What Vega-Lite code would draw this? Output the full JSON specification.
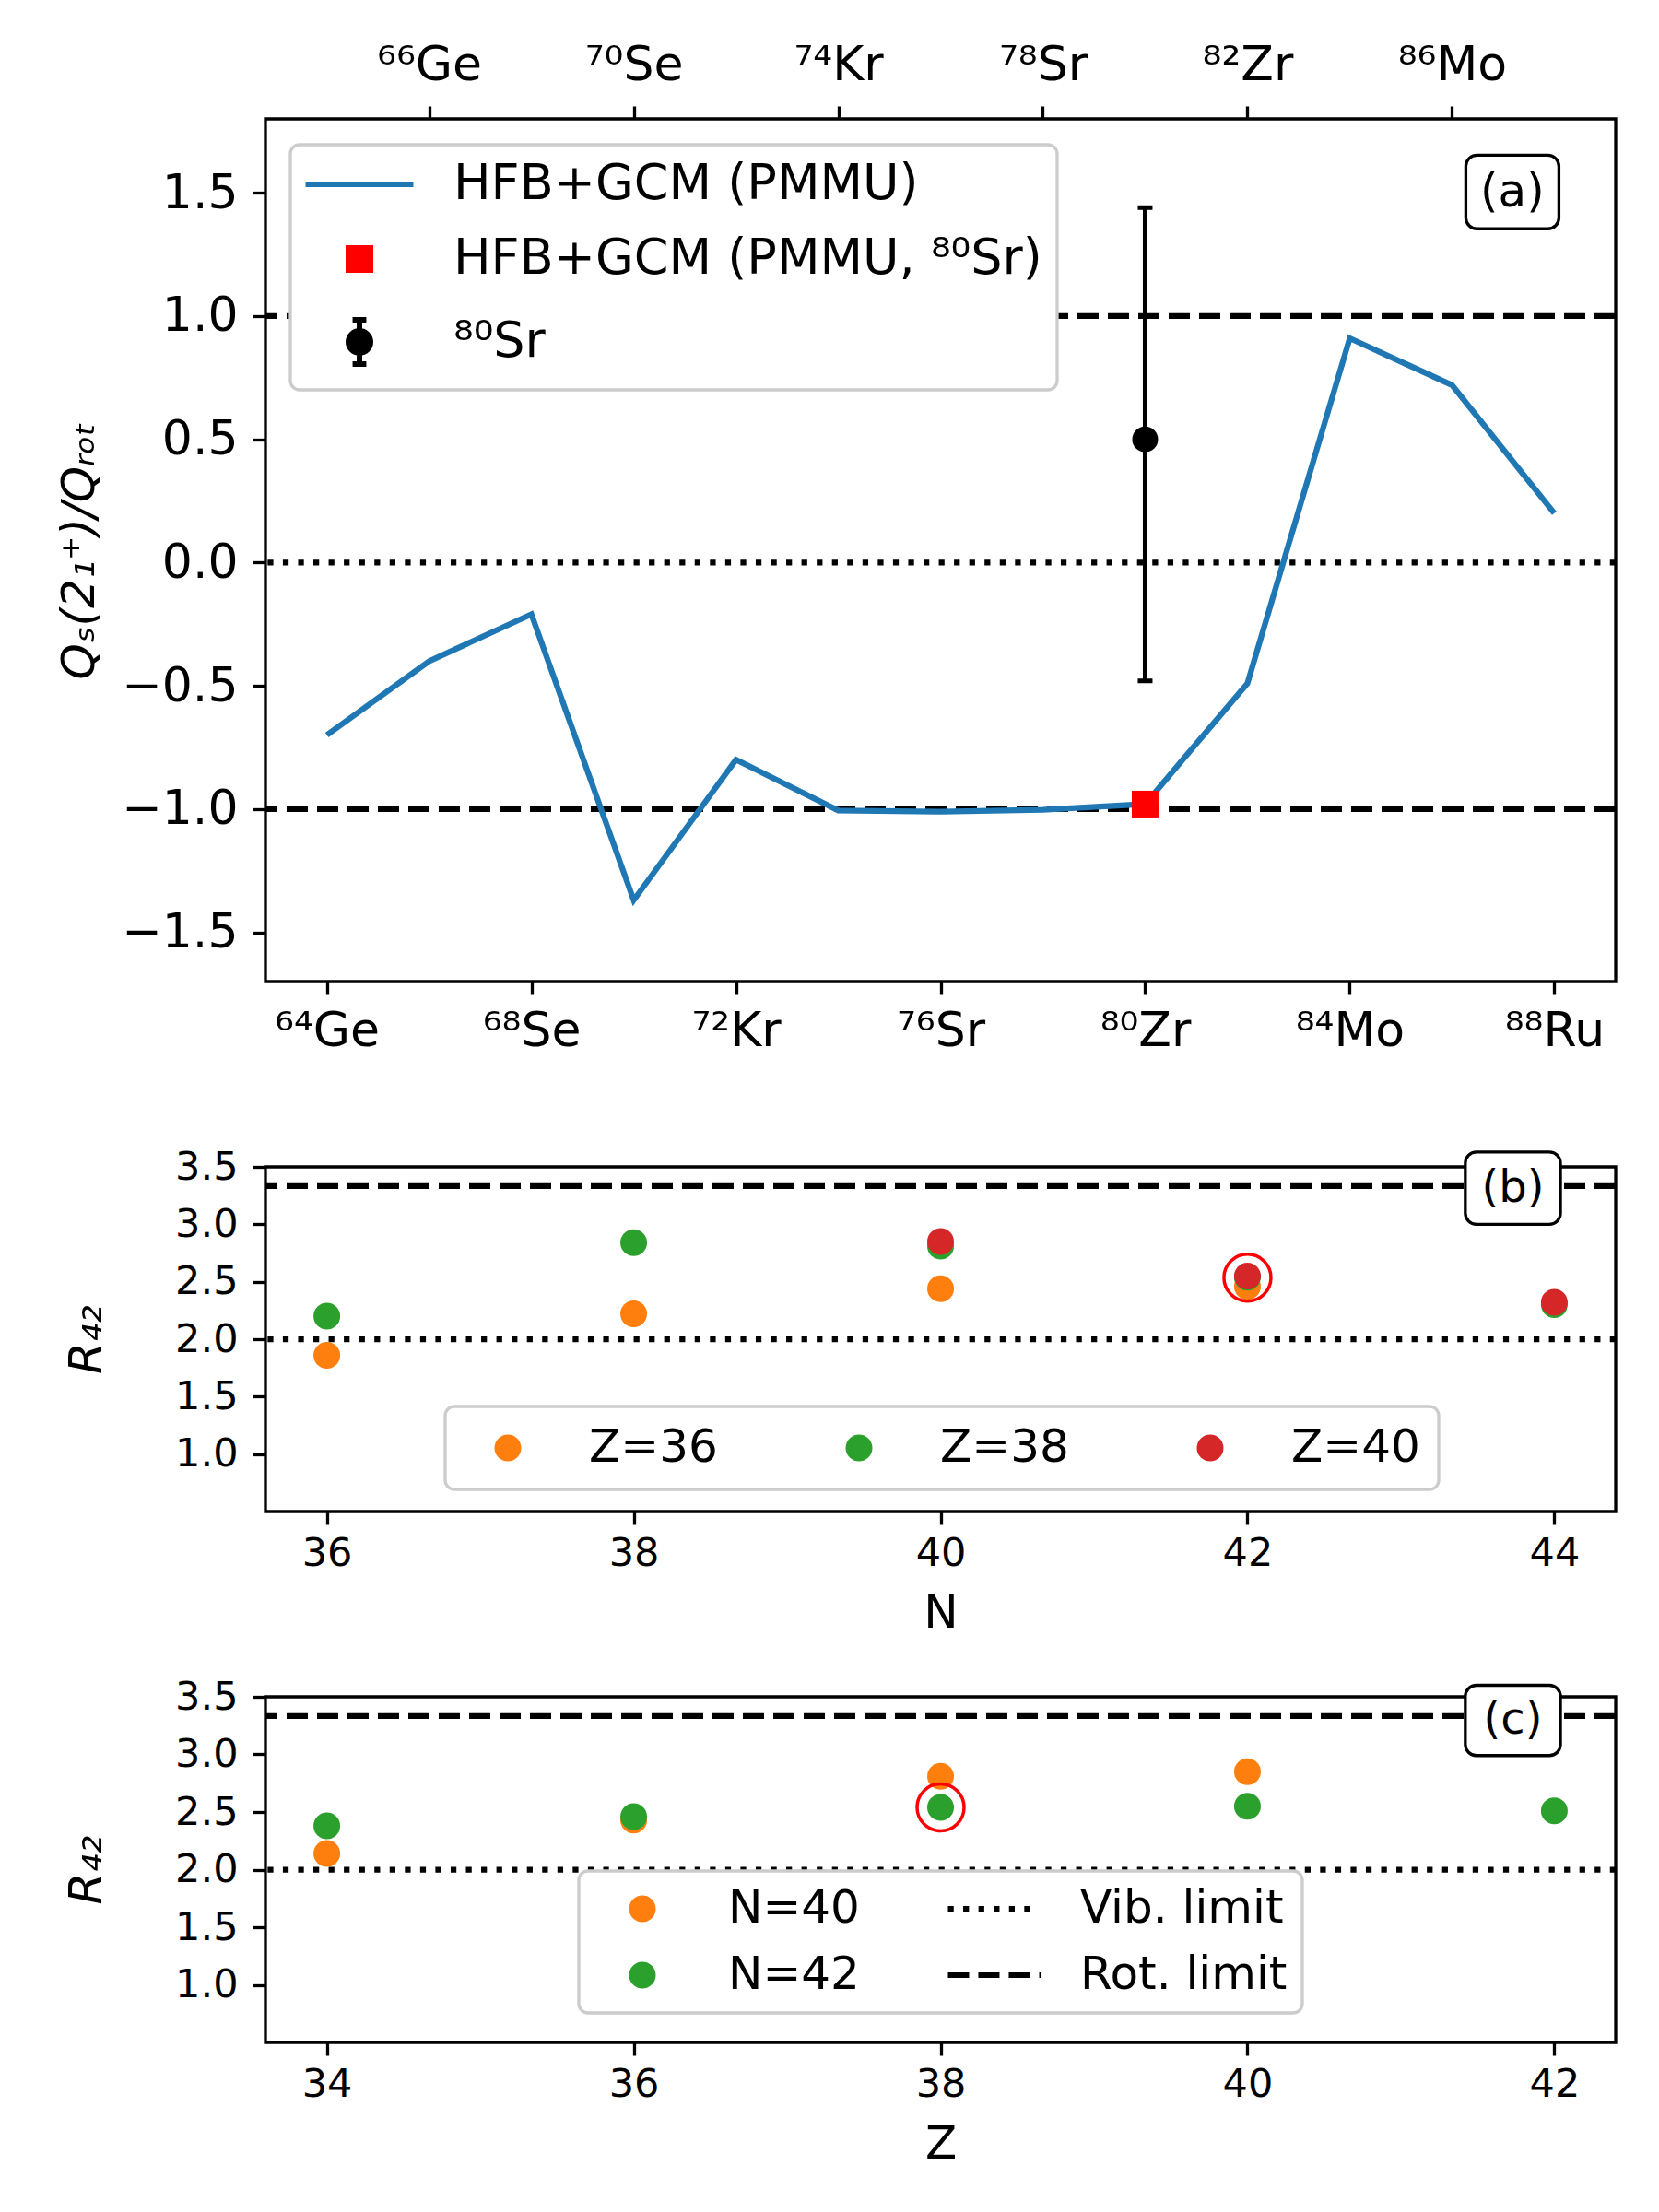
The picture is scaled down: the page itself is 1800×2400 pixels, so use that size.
{
  "$schema": "https://vega.github.io/schema/vega-lite/v6.json",
  "background": "white",
  "padding": {"left": 60, "top": 42, "right": 10, "bottom": 10},
  "bounds": "flush",
  "spacing": 201,
  "resolve": {
    "scale": {"color": "independent", "fill": "independent", "stroke": "independent", "shape": "independent", "size": "independent"},
    "legend": {"color": "independent", "fill": "independent", "stroke": "independent", "shape": "independent", "size": "independent"}
  },
  "datasets": {
    "qs": [
      {"A": 64, "q": -0.70},
      {"A": 66, "q": -0.40},
      {"A": 68, "q": -0.21},
      {"A": 70, "q": -1.37},
      {"A": 72, "q": -0.80},
      {"A": 74, "q": -1.006},
      {"A": 76, "q": -1.011},
      {"A": 78, "q": -1.003},
      {"A": 80, "q": -0.98},
      {"A": 82, "q": -0.49},
      {"A": 84, "q": 0.91},
      {"A": 86, "q": 0.72},
      {"A": 88, "q": 0.20}
    ],
    "rn": [
      {"N": 36, "R": 1.86, "g": "Z=36"},
      {"N": 38, "R": 2.22, "g": "Z=36"},
      {"N": 40, "R": 2.44, "g": "Z=36"},
      {"N": 42, "R": 2.46, "g": "Z=36"},
      {"N": 36, "R": 2.20, "g": "Z=38"},
      {"N": 38, "R": 2.84, "g": "Z=38"},
      {"N": 40, "R": 2.81, "g": "Z=38"},
      {"N": 42, "R": 2.54, "g": "Z=38"},
      {"N": 44, "R": 2.30, "g": "Z=38"},
      {"N": 40, "R": 2.85, "g": "Z=40"},
      {"N": 42, "R": 2.55, "g": "Z=40"},
      {"N": 44, "R": 2.32, "g": "Z=40"}
    ],
    "rz": [
      {"Z": 34, "R": 2.14, "g": "N=40"},
      {"Z": 36, "R": 2.43, "g": "N=40"},
      {"Z": 38, "R": 2.81, "g": "N=40"},
      {"Z": 40, "R": 2.85, "g": "N=40"},
      {"Z": 34, "R": 2.38, "g": "N=42"},
      {"Z": 36, "R": 2.46, "g": "N=42"},
      {"Z": 38, "R": 2.54, "g": "N=42"},
      {"Z": 40, "R": 2.55, "g": "N=42"},
      {"Z": 42, "R": 2.51, "g": "N=42"}
    ]
  },
  "config": {
    "font": "DejaVu Sans",
    "view": {"stroke": "black", "strokeWidth": 3.3},
    "axis": {
      "domain": false,
      "grid": false,
      "tickColor": "black",
      "tickWidth": 3.3,
      "tickSize": 14,
      "labelFont": "DejaVu Sans",
      "labelColor": "black",
      "labelFontSize": 52,
      "labelPadding": 4,
      "labelOverlap": false,
      "labelFlush": false,
      "labelBound": false,
      "titleFont": "DejaVu Sans",
      "titleFontWeight": "normal",
      "titleColor": "black",
      "titleFontSize": 50
    },
    "legend": {
      "labelFont": "DejaVu Sans",
      "labelColor": "black",
      "labelLimit": 2000,
      "fillColor": "white",
      "strokeColor": "#cccccc",
      "strokeWidth": 3.3,
      "cornerRadius": 10
    }
  },
  "vconcat": [
    {
      "width": 1465,
      "height": 936,
      "layer": [
        {
          "data": {"values": [{"y": 1}, {"y": -1}]},
          "mark": {"type": "rule", "color": "black", "strokeWidth": 6.25, "strokeDash": [23, 10]},
          "encoding": {"y": {"field": "y", "type": "quantitative", "scale": {"domain": [-1.7, 1.8], "nice": false}, "axis": null}}
        },
        {
          "data": {"values": [{"y": 0}]},
          "mark": {"type": "rule", "color": "black", "strokeWidth": 6.25, "strokeDash": [6.25, 10.3]},
          "encoding": {"y": {"field": "y", "type": "quantitative", "scale": {"domain": [-1.7, 1.8], "nice": false}, "axis": null}}
        },
        {
          "data": {"name": "qs"},
          "mark": {"type": "line", "color": "#1f77b4", "strokeWidth": 6.25},
          "encoding": {
            "x": {"field": "A", "type": "quantitative", "scale": {"domain": [62.8, 89.2], "nice": false, "zero": false},
              "axis": {"orient": "bottom", "title": null, "values": [64, 68, 72, 76, 80, 84, 88], "labelPadding": 14,
                "labelExpr": "datum.value == 64 ? '⁶⁴Ge' : datum.value == 68 ? '⁶⁸Se' : datum.value == 72 ? '⁷²Kr' : datum.value == 76 ? '⁷⁶Sr' : datum.value == 80 ? '⁸⁰Zr' : datum.value == 84 ? '⁸⁴Mo' : '⁸⁸Ru'"}},
            "y": {"field": "q", "type": "quantitative", "scale": {"domain": [-1.7, 1.8], "nice": false},
              "axis": {"title": "Qₛ(2₁⁺)/Qᵣₒₜ", "titleFontStyle": "italic", "values": [-1.5, -1, -0.5, 0, 0.5, 1, 1.5], "format": ".1f", "labelPadding": 16, "titlePadding": 20}}
          }
        },
        {
          "data": {"name": "qs"},
          "mark": {"type": "line", "opacity": 0},
          "encoding": {
            "x": {"field": "A", "type": "quantitative", "scale": {"domain": [62.8, 89.2], "nice": false, "zero": false},
              "axis": {"orient": "top", "title": null, "values": [66, 70, 74, 78, 82, 86], "labelPadding": 18,
                "labelExpr": "datum.value == 66 ? '⁶⁶Ge' : datum.value == 70 ? '⁷⁰Se' : datum.value == 74 ? '⁷⁴Kr' : datum.value == 78 ? '⁷⁸Sr' : datum.value == 82 ? '⁸²Zr' : '⁸⁶Mo'"}},
            "y": {"field": "q", "type": "quantitative", "scale": {"domain": [-1.7, 1.8], "nice": false}, "axis": null}
          }
        },
        {
          "data": {"values": [{"A": 80, "q": -0.98}]},
          "mark": {"type": "point", "shape": "square", "filled": true, "color": "red", "size": 841, "opacity": 1, "strokeWidth": 0},
          "encoding": {
            "x": {"field": "A", "type": "quantitative", "axis": null},
            "y": {"field": "q", "type": "quantitative", "axis": null}
          }
        },
        {
          "data": {"values": [{"A": 80, "lo": -0.48, "hi": 1.44}]},
          "mark": {"type": "rule", "color": "black", "strokeWidth": 5},
          "encoding": {
            "x": {"field": "A", "type": "quantitative", "axis": null},
            "y": {"field": "lo", "type": "quantitative", "axis": null},
            "y2": {"field": "hi"}
          }
        },
        {
          "data": {"values": [{"A": 80, "q": -0.48}, {"A": 80, "q": 1.44}]},
          "mark": {"type": "point", "shape": "stroke", "size": 256, "color": "black", "strokeWidth": 5, "opacity": 1},
          "encoding": {
            "x": {"field": "A", "type": "quantitative", "axis": null},
            "y": {"field": "q", "type": "quantitative", "axis": null}
          }
        },
        {
          "data": {"values": [{"A": 80, "q": 0.50}]},
          "mark": {"type": "point", "shape": "circle", "filled": true, "color": "black", "size": 784, "opacity": 1},
          "encoding": {
            "x": {"field": "A", "type": "quantitative", "axis": null},
            "y": {"field": "q", "type": "quantitative", "axis": null}
          }
        },
        {
          "data": {"values": [{"x1": 86.27, "x2": 88.09, "y1": 1.354, "y2": 1.653}]},
          "mark": {"type": "rect", "fill": "white", "stroke": "black", "strokeWidth": 3.3, "cornerRadius": 12},
          "encoding": {
            "x": {"field": "x1", "type": "quantitative", "axis": null},
            "x2": {"field": "x2"},
            "y": {"field": "y1", "type": "quantitative", "axis": null},
            "y2": {"field": "y2"}
          }
        },
        {
          "data": {"values": [{"A": 87.18, "q": 1.50, "t": "(a)"}]},
          "mark": {"type": "text", "fontSize": 50, "align": "center", "baseline": "middle", "color": "black"},
          "encoding": {
            "x": {"field": "A", "type": "quantitative", "axis": null},
            "y": {"field": "q", "type": "quantitative", "axis": null},
            "text": {"field": "t"}
          }
        },
        {
          "data": {"values": [{"s": "HFB+GCM (PMMU)"}, {"s": "HFB+GCM (PMMU, ⁸⁰Sr)"}, {"s": "⁸⁰Sr"}]},
          "mark": {"type": "point", "clip": true, "opacity": 1, "strokeWidth": 6},
          "encoding": {
            "x": {"datum": 0, "type": "quantitative", "scale": {"domain": [62.8, 89.2], "nice": false, "zero": false}, "axis": null},
            "y": {"datum": 0, "type": "quantitative", "scale": {"domain": [-1.7, 1.8], "nice": false}, "axis": null},
            "fill": {"field": "s", "type": "nominal",
              "scale": {"domain": ["HFB+GCM (PMMU)", "HFB+GCM (PMMU, ⁸⁰Sr)", "⁸⁰Sr"], "range": ["#1f77b4", "red", "black"]},
              "legend": {"title": null, "orient": "none", "legendX": 27, "legendY": 28, "direction": "vertical", "padding": 16, "symbolOffset": 32, "labelOffset": 75, "rowPadding": 27, "symbolStrokeWidth": 6, "labelFontSize": 54}},
            "stroke": {"field": "s", "type": "nominal",
              "scale": {"domain": ["HFB+GCM (PMMU)", "HFB+GCM (PMMU, ⁸⁰Sr)", "⁸⁰Sr"], "range": ["#1f77b4", "red", "black"]},
              "legend": {"title": null, "orient": "none", "legendX": 27, "legendY": 28, "direction": "vertical", "padding": 16, "symbolOffset": 32, "labelOffset": 75, "rowPadding": 27, "symbolStrokeWidth": 6, "labelFontSize": 54}},
            "shape": {"field": "s", "type": "nominal",
              "scale": {"domain": ["HFB+GCM (PMMU)", "HFB+GCM (PMMU, ⁸⁰Sr)", "⁸⁰Sr"], "range": ["M-4,0H4", "square", "M-0.5,0A0.5,0.5 0 1,0 0.5,0A0.5,0.5 0 1,0 -0.5,0ZM0,-1V1M-0.31,-1H0.31M-0.31,1H0.31"]},
              "legend": {"title": null, "orient": "none", "legendX": 27, "legendY": 28, "direction": "vertical", "padding": 16, "symbolOffset": 32, "labelOffset": 75, "rowPadding": 27, "symbolStrokeWidth": 6, "labelFontSize": 54}},
            "size": {"field": "s", "type": "nominal",
              "scale": {"type": "ordinal", "domain": ["HFB+GCM (PMMU)", "HFB+GCM (PMMU, ⁸⁰Sr)", "⁸⁰Sr"], "range": [856, 576, 2304]},
              "legend": {"title": null, "orient": "none", "legendX": 27, "legendY": 28, "direction": "vertical", "padding": 16, "symbolOffset": 32, "labelOffset": 75, "rowPadding": 27, "symbolStrokeWidth": 6, "labelFontSize": 54}}
          }
        }
      ],
      "resolve": {"axis": {"x": "independent", "y": "independent"}}
    },
    {
      "width": 1465,
      "height": 374,
      "layer": [
        {
          "data": {"values": [{"y": 3.3333}]},
          "mark": {"type": "rule", "color": "black", "strokeWidth": 6.25, "strokeDash": [23, 10]},
          "encoding": {"y": {"field": "y", "type": "quantitative", "scale": {"domain": [0.5, 3.5], "nice": false}}}
        },
        {
          "data": {"values": [{"y": 2}]},
          "mark": {"type": "rule", "color": "black", "strokeWidth": 6.25, "strokeDash": [6.25, 10.3]},
          "encoding": {"y": {"field": "y", "type": "quantitative"}}
        },
        {
          "data": {"name": "rn"},
          "mark": {"type": "point", "filled": true, "opacity": 1, "size": 841},
          "encoding": {
            "x": {"field": "N", "type": "quantitative", "scale": {"domain": [35.6, 44.4], "nice": false, "zero": false},
              "axis": {"title": "N", "values": [36, 38, 40, 42, 44], "format": "d", "labelFontSize": 43, "labelPadding": 10, "titlePadding": 18}},
            "y": {"field": "R", "type": "quantitative", "scale": {"domain": [0.5, 3.5], "nice": false},
              "axis": {"title": "R₄₂", "titleFontStyle": "italic", "values": [1, 1.5, 2, 2.5, 3, 3.5], "format": ".1f", "labelFontSize": 43, "labelPadding": 16, "titlePadding": 70}},
            "color": {"field": "g", "type": "nominal",
              "scale": {"domain": ["Z=36", "Z=38", "Z=40"], "range": ["#ff7f0e", "#2ca02c", "#d62728"]},
              "legend": {"title": null, "orient": "none", "legendX": 195, "legendY": 260, "direction": "horizontal", "columns": 3, "padding": 20, "symbolOffset": 23, "labelOffset": 63, "columnPadding": 105, "symbolSize": 841, "symbolType": "circle", "labelFontSize": 50}}
          }
        },
        {
          "data": {"values": [{"N": 42, "R": 2.535}]},
          "mark": {"type": "point", "filled": false, "color": "red", "opacity": 1, "size": 2601, "strokeWidth": 3.5},
          "encoding": {
            "x": {"field": "N", "type": "quantitative"},
            "y": {"field": "R", "type": "quantitative"}
          }
        },
        {
          "data": {"values": [{"x1": 43.42, "x2": 44.04, "y1": 3.0, "y2": 3.63}]},
          "mark": {"type": "rect", "fill": "white", "stroke": "black", "strokeWidth": 3.3, "cornerRadius": 12},
          "encoding": {
            "x": {"field": "x1", "type": "quantitative"},
            "x2": {"field": "x2"},
            "y": {"field": "y1", "type": "quantitative"},
            "y2": {"field": "y2"}
          }
        },
        {
          "data": {"values": [{"N": 43.73, "R": 3.31, "t": "(b)"}]},
          "mark": {"type": "text", "fontSize": 48, "align": "center", "baseline": "middle", "color": "black"},
          "encoding": {
            "x": {"field": "N", "type": "quantitative"},
            "y": {"field": "R", "type": "quantitative"},
            "text": {"field": "t"}
          }
        }
      ]
    },
    {
      "width": 1465,
      "height": 375,
      "layer": [
        {
          "data": {"values": [{"y": 3.3333}]},
          "mark": {"type": "rule", "color": "black", "strokeWidth": 6.25, "strokeDash": [23, 10]},
          "encoding": {"y": {"field": "y", "type": "quantitative", "scale": {"domain": [0.5, 3.5], "nice": false}}}
        },
        {
          "data": {"values": [{"y": 2}]},
          "mark": {"type": "rule", "color": "black", "strokeWidth": 6.25, "strokeDash": [6.25, 10.3]},
          "encoding": {"y": {"field": "y", "type": "quantitative"}}
        },
        {
          "data": {"name": "rz"},
          "mark": {"type": "point", "filled": true, "opacity": 1, "size": 841},
          "encoding": {
            "x": {"field": "Z", "type": "quantitative", "scale": {"domain": [33.6, 42.4], "nice": false, "zero": false},
              "axis": {"title": "Z", "values": [34, 36, 38, 40, 42], "format": "d", "labelFontSize": 43, "labelPadding": 10, "titlePadding": 18}},
            "y": {"field": "R", "type": "quantitative", "scale": {"domain": [0.5, 3.5], "nice": false},
              "axis": {"title": "R₄₂", "titleFontStyle": "italic", "values": [1, 1.5, 2, 2.5, 3, 3.5], "format": ".1f", "labelFontSize": 43, "labelPadding": 16, "titlePadding": 70}},
            "color": {"field": "g", "type": "nominal",
              "scale": {"domain": ["N=40", "N=42"], "range": ["#ff7f0e", "#2ca02c"]}, "legend": null}
          }
        },
        {
          "data": {"values": [{"Z": 38, "R": 2.54}]},
          "mark": {"type": "point", "filled": false, "color": "red", "opacity": 1, "size": 2601, "strokeWidth": 3.5},
          "encoding": {
            "x": {"field": "Z", "type": "quantitative"},
            "y": {"field": "R", "type": "quantitative"}
          }
        },
        {
          "data": {"values": [{"x1": 41.42, "x2": 42.04, "y1": 2.99, "y2": 3.6}]},
          "mark": {"type": "rect", "fill": "white", "stroke": "black", "strokeWidth": 3.3, "cornerRadius": 12},
          "encoding": {
            "x": {"field": "x1", "type": "quantitative"},
            "x2": {"field": "x2"},
            "y": {"field": "y1", "type": "quantitative"},
            "y2": {"field": "y2"}
          }
        },
        {
          "data": {"values": [{"Z": 41.73, "R": 3.29, "t": "(c)"}]},
          "mark": {"type": "text", "fontSize": 48, "align": "center", "baseline": "middle", "color": "black"},
          "encoding": {
            "x": {"field": "Z", "type": "quantitative"},
            "y": {"field": "R", "type": "quantitative"},
            "text": {"field": "t"}
          }
        },
        {
          "data": {"values": [{"k": "N=40"}, {"k": "N=42"}, {"k": "Vib. limit"}, {"k": "Rot. limit"}]},
          "mark": {"type": "point", "clip": true, "opacity": 1, "strokeWidth": 6},
          "encoding": {
            "x": {"datum": 0, "type": "quantitative", "scale": {"domain": [33.6, 42.4], "nice": false, "zero": false}},
            "y": {"datum": 0, "type": "quantitative", "scale": {"domain": [0.5, 3.5], "nice": false}},
            "fill": {"field": "k", "type": "nominal",
              "scale": {"domain": ["N=40", "N=42", "Vib. limit", "Rot. limit"], "range": ["#ff7f0e", "#2ca02c", "black", "black"]},
              "legend": {"title": null, "orient": "none", "legendX": 340, "legendY": 189, "columns": 2, "padding": 16, "symbolOffset": 28, "labelOffset": 68, "columnPadding": 83, "rowPadding": 22, "symbolStrokeWidth": 6, "labelFontSize": 50}},
            "stroke": {"field": "k", "type": "nominal",
              "scale": {"domain": ["N=40", "N=42", "Vib. limit", "Rot. limit"], "range": ["#ff7f0e", "#2ca02c", "black", "black"]},
              "legend": {"title": null, "orient": "none", "legendX": 340, "legendY": 189, "columns": 2, "padding": 16, "symbolOffset": 28, "labelOffset": 68, "columnPadding": 83, "rowPadding": 22, "symbolStrokeWidth": 6, "labelFontSize": 50}},
            "shape": {"field": "k", "type": "nominal",
              "scale": {"domain": ["N=40", "N=42", "Vib. limit", "Rot. limit"], "range": ["circle", "circle", "M-4,0H-3.504M-2.688,0H-2.192M-1.376,0H-0.88M-0.064,0H0.432M1.248,0H1.744M2.56,0H3.056", "M-4,0H-2.18M-1.388,0H0.432M1.224,0H3.044M3.84,0H4"]},
              "legend": {"title": null, "orient": "none", "legendX": 340, "legendY": 189, "columns": 2, "padding": 16, "symbolOffset": 28, "labelOffset": 68, "columnPadding": 83, "rowPadding": 22, "symbolStrokeWidth": 6, "labelFontSize": 50}},
            "size": {"field": "k", "type": "nominal",
              "scale": {"type": "ordinal", "domain": ["N=40", "N=42", "Vib. limit", "Rot. limit"], "range": [529, 529, 638, 638]},
              "legend": {"title": null, "orient": "none", "legendX": 340, "legendY": 189, "columns": 2, "padding": 16, "symbolOffset": 28, "labelOffset": 68, "columnPadding": 83, "rowPadding": 22, "symbolStrokeWidth": 6, "labelFontSize": 50}}
          }
        }
      ]
    }
  ]
}
